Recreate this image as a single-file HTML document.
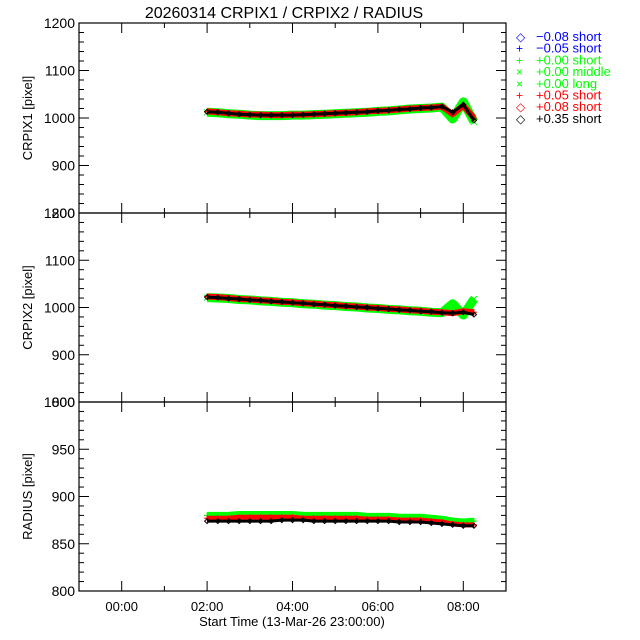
<!DOCTYPE html>
<html><head><meta charset="utf-8"><style>
body{margin:0;background:#fff}
svg{display:block;font-family:"Liberation Sans",sans-serif}
</style></head><body>
<svg id="c" width="640" height="640" xmlns="http://www.w3.org/2000/svg">
<rect width="640" height="640" fill="#fff"/>
<text x="284" y="18" font-size="16" text-anchor="middle">20260314 CRPIX1 / CRPIX2 / RADIUS</text>
</svg>
<script>
const times=[2.0,2.25,2.5,2.75,3.0,3.25,3.5,3.75,4.0,4.25,4.5,4.75,5.0,5.25,5.5,5.75,6.0,6.25,6.5,6.75,7.0,7.25,7.5,7.75,8.0,8.25];
const xTickLabels=["00:00","02:00","04:00","06:00","08:00"];
const xTickHours=[0,2,4,6,8];
const crpix1Black=[1013,1012,1010,1008,1007,1006,1006,1006,1006,1007,1008,1009,1010,1011,1012,1013,1015,1016,1018,1019,1021,1022,1024,1012,1028,995];
const crpix1Red=[1014,1012,1010,1009,1007,1007,1006,1006,1007,1007,1008,1009,1010,1011,1012,1014,1015,1016,1018,1020,1021,1022,1024,1008,1026,1000];
const crpix1Green=[1012,1011,1009,1008,1006,1005,1005,1005,1006,1006,1007,1008,1009,1010,1011,1012,1014,1015,1017,1019,1020,1021,1023,998,1034,992];
const crpix2Black=[1022,1021,1019,1018,1016,1015,1013,1012,1010,1009,1007,1006,1004,1003,1001,1000,998,997,995,994,992,991,989,988,990,985];
const crpix2Red=[1023,1022,1020,1018,1017,1015,1014,1012,1011,1009,1008,1006,1005,1003,1002,1000,999,997,996,994,993,991,990,988,992,990];
const crpix2Green=[1021,1020,1019,1017,1016,1014,1013,1011,1010,1008,1007,1005,1004,1002,1001,999,998,996,995,993,992,990,989,1008,984,1018];
const radiusGreen=[880,880,880,881,881,881,881,881,881,880,880,880,880,880,880,879,879,879,878,878,878,877,876,874,873,874];
const radiusRed=[877,877,877,878,878,878,878,878,878,877,877,877,877,877,877,876,876,876,875,875,875,874,873,871,870,870];
const radiusBlack=[874,874,874,874,874,874,874,875,875,875,874,874,874,874,874,874,874,874,873,873,873,872,871,870,869,869];
const legendLabels=["\u22120.08 short","\u22120.05 short","+0.00 short","+0.00 middle","+0.00 long","+0.05 short","+0.08 short","+0.35 short"];
const legendColors=["#0000ff","#0000ff","#00ff00","#00ff00","#00ff00","#ff0000","#ff0000","#000000"];
const legendSymbols=["\u25C7","+","+","\u00D7","\u00D7","+","\u25C7","\u25C7"];

const svg=document.getElementById('c');
const NS="http://www.w3.org/2000/svg";
const X0=79,X1=506,T0=-1,T1=9;
function xs(h){return X0+(h-T0)/(T1-T0)*(X1-X0);}
function mk(tag,attrs){const e=document.createElementNS(NS,tag);for(const k in attrs)e.setAttribute(k,attrs[k]);svg.appendChild(e);return e;}

const panels=[
 {name:"crpix1",top:23,bot:213,min:800,max:1200,major:100,minor:20,title:"CRPIX1 [pixel]",series:[[crpix1Green,"#00ff00","x",9],[crpix1Red,"#ff0000","+",6],[crpix1Black,"#000000","d",3]]},
 {name:"crpix2",top:213,bot:402,min:800,max:1200,major:100,minor:20,title:"CRPIX2 [pixel]",series:[[crpix2Green,"#00ff00","x",9],[crpix2Red,"#ff0000","+",6],[crpix2Black,"#000000","d",3]]},
 {name:"radius",top:402,bot:591,min:800,max:1000,major:50,minor:10,title:"RADIUS [pixel]",series:[[radiusGreen,"#00ff00","+",7],[radiusRed,"#ff0000","+",5],[radiusBlack,"#000000","d",3]]}
];

panels.forEach((p,pi)=>{
 const ys=v=>p.bot-(v-p.min)/(p.max-p.min)*(p.bot-p.top);
 const fr=mk('rect',{x:X0,y:p.top,width:X1-X0,height:p.bot-p.top,fill:"none",stroke:"#000","stroke-width":1.2});
 
 
 for(let v=p.min;v<=p.max+0.01;v+=p.minor){
  const y=ys(v);const isMaj=Math.abs((v-p.min)%p.major)<0.01;const L=isMaj?10:5;
  mk('line',{x1:X0,y1:y,x2:X0+L,y2:y,stroke:"#000"});
  mk('line',{x1:X1,y1:y,x2:X1-L,y2:y,stroke:"#000"});
  if(isMaj){const t=mk('text',{x:X0-4,y:y+5,"font-size":14,"text-anchor":"end"});t.textContent=v;
   
   }
 }
 for(let h=T0;h<=T1;h++){
  const x=xs(h);const L=(h%2===0)?10:5;
  mk('line',{x1:x,y1:p.bot,x2:x,y2:p.bot-L,stroke:"#000"});
  mk('line',{x1:x,y1:p.top,x2:x,y2:p.top+L,stroke:"#000"});
 }
 const yt=mk('text',{x:0,y:0,"font-size":13,"text-anchor":"middle",transform:`translate(32,${(p.top+p.bot)/2}) rotate(-90)`});
 yt.textContent=p.title;
 
 
 p.series.forEach(([vals,col,sym,w])=>{
  const pts=vals.map((v,i)=>xs(times[i])+","+ys(v)).join(" ");
  const pl=mk('polyline',{points:pts,fill:"none",stroke:col,"stroke-width":w,"stroke-linejoin":"round"});
  
  
  vals.forEach((v,i)=>{
   const x=xs(times[i]),y=ys(v);let d;
   if(sym==="x")d=`M${x-3},${y-3}L${x+3},${y+3}M${x-3},${y+3}L${x+3},${y-3}`;
   else if(sym==="+")d=`M${x-3},${y}L${x+3},${y}M${x},${y-3}L${x},${y+3}`;
   else d=`M${x},${y-2.5}L${x+2.5},${y}L${x},${y+2.5}L${x-2.5},${y}Z`;
   const m=mk('path',{d:d,fill:"none",stroke:col,"stroke-width":1});
   
   
  });
 });
});
xTickHours.forEach((h,i)=>{
 const t=mk('text',{x:xs(h),y:611,"font-size":13,"text-anchor":"middle"});t.textContent=xTickLabels[i];
 
 
});
const xt=mk('text',{x:292,y:626,"font-size":13,"text-anchor":"middle"});xt.textContent="Start Time (13-Mar-26 23:00:00)";


legendLabels.forEach((lab,i)=>{
 const y=41+i*11.7;
 const s=mk('text',{x:516,y:y,"font-size":12,fill:legendColors[i]});s.textContent=legendSymbols[i];
 
 
 const t=mk('text',{x:536,y:y,"font-size":13,fill:legendColors[i]});t.textContent=lab;
 
 
});
</script>
</body></html>
